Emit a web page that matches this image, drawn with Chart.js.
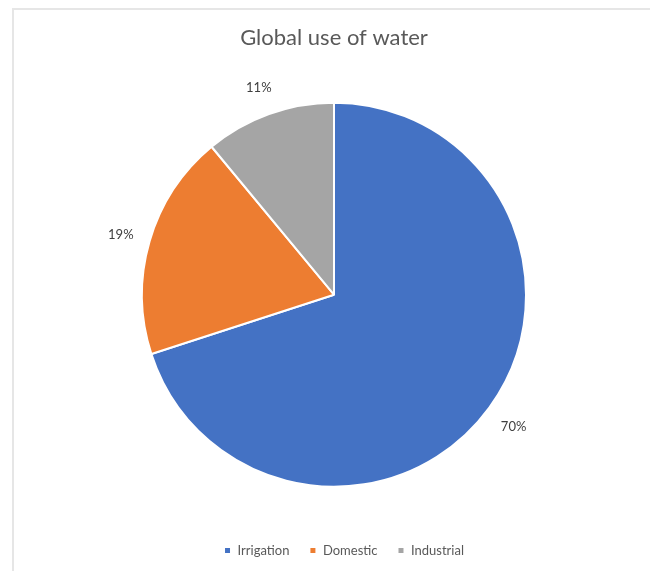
<!DOCTYPE html>
<html>
<head>
<meta charset="utf-8">
<script src="https://cdn.jsdelivr.net/npm/chart.js@4.4.0/dist/chart.umd.min.js"></script>
<style>
  html, body { margin: 0; padding: 0; background: #ffffff; }
  #wrap { position: relative; width: 650px; height: 571px; overflow: hidden; }
  #frame { position: absolute; left: 12px; top: 8px; width: 700px; height: 600px;
           border-left: 2px solid #e6e6e6; border-top: 2px solid #e6e6e6; box-sizing: border-box; }
  canvas { position: absolute; left: 0; top: 0; }
</style>
</head>
<body>
<div id="wrap">
  <div id="frame"></div>
  <canvas id="c" width="650" height="571"></canvas>
</div>
<script>
const titleText = 'Global use of water';
const categories = ['Irrigation', 'Domestic', 'Industrial'];
const shares = [70, 19, 11];
const sliceColors = ['#4472c4', '#ed7d31', '#a5a5a5'];

const FONT = 'Lato, "Open Sans", sans-serif';

const pctLabels = {
  id: 'pctLabels',
  afterDatasetsDraw(chart) {
    const ctx = chart.ctx;
    const meta = chart.getDatasetMeta(0);
    const data = chart.data.datasets[0].data;
    const total = data.reduce((a, b) => a + b, 0);
    ctx.save();
    ctx.font = '13px ' + FONT;
    ctx.fillStyle = '#404040';
    ctx.textAlign = 'center';
    ctx.textBaseline = 'middle';
    meta.data.forEach((arc, i) => {
      const p = arc.getProps(['x', 'y', 'startAngle', 'endAngle', 'outerRadius'], true);
      const mid = (p.startAngle + p.endAngle) / 2;
      const r = p.outerRadius + 30;
      const x = p.x + Math.cos(mid) * r;
      const y = p.y + Math.sin(mid) * r + 2;
      ctx.fillText(Math.round(data[i] / total * 100) + '%', x, y);
    });
    ctx.restore();
  }
};

const legendShift = {
  id: 'legendShift',
  afterLayout(chart) {
    if (chart.legend) { chart.legend.left += 10; chart.legend.right += 10; }
  }
};

new Chart(document.getElementById('c'), {
  type: 'pie',
  data: {
    labels: categories,
    datasets: [{
      data: shares,
      backgroundColor: sliceColors,
      borderColor: '#ffffff',
      borderWidth: 2
    }]
  },
  options: {
    responsive: false,
    animation: false,
    layout: { padding: { left: 141, right: 123, top: 0, bottom: 4 } },
    plugins: {
      title: {
        display: true,
        text: titleText,
        color: '#595959',
        font: { family: FONT, size: 22, weight: 'normal' },
        padding: { top: 25, bottom: 14 }
      },
      legend: {
        position: 'bottom',
        labels: {
          color: '#595959',
          font: { family: FONT, size: 13 },
          boxWidth: 7,
          boxHeight: 7,
          padding: 20
        }
      },
      tooltip: { enabled: false }
    }
  },
  plugins: [pctLabels, legendShift]
});
</script>
</body>
</html>
